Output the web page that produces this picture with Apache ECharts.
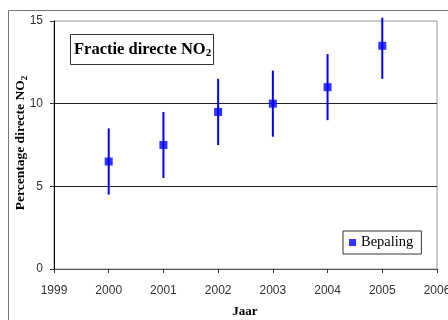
<!DOCTYPE html>
<html><head><meta charset="utf-8">
<script src="https://cdn.jsdelivr.net/npm/echarts@6/dist/echarts.min.js"></script>
<style>html,body{margin:0;padding:0;background:#fff}#c{width:448px;height:320px}</style>
</head><body><div id="c"></div>
<script>
var years = [2000, 2001, 2002, 2003, 2004, 2005];
var values = [6.5, 7.5, 9.5, 10, 11, 13.5];
var lower = [4.5, 5.5, 7.5, 8, 9, 11.5];
var upper = [8.5, 9.5, 11.5, 12, 13, 15.2];
var xTicks = [1999, 2000, 2001, 2002, 2003, 2004, 2005, 2006];
var yTicks = [0, 5, 10, 15];
var xName = 'Jaar';
var yName = 'Percentage directe NO';

var serif = '"Liberation Serif","Times New Roman",serif';
var sans = '"Liberation Sans",Arial,sans-serif';
var chart = echarts.init(document.getElementById('c'));
chart.setOption({
  animation: false,
  backgroundColor: '#fff',
  graphic: [{
    type: 'rect', shape: {x: 8.5, y: 10.5, width: 460, height: 330},
    style: {fill: 'none', stroke: '#777', lineWidth: 1}, z: -10
  }, {
    type: 'text', x: 21, y: 143, rotation: Math.PI / 2,
    style: {
      text: '{b|' + yName + '}{s|2}', align: 'center', verticalAlign: 'middle',
      rich: {
        b: {fontFamily: serif, fontWeight: 'bold', fontSize: 13.5, fill: '#000'},
        s: {fontFamily: serif, fontWeight: 'bold', fontSize: 9, fill: '#000', padding: [7, 0, 0, 0]}
      }
    }
  }, {
    type: 'text', x: 245, y: 312,
    style: {text: xName, align: 'center', verticalAlign: 'middle',
      fontFamily: serif, fontWeight: 'bold', fontSize: 13, fill: '#000'}
  }],
  title: {
    text: '{b|Fractie directe NO}{s|2}',
    left: 70, top: 33,
    padding: [7, 3, 6, 4],
    borderColor: '#333', borderWidth: 1, backgroundColor: '#fff',
    textStyle: {
      rich: {
        b: {fontFamily: serif, fontWeight: 'bold', fontSize: 16.5, color: '#000'},
        s: {fontFamily: serif, fontWeight: 'bold', fontSize: 11, color: '#000', padding: [8, 0, 0, 0]}
      }
    }
  },
  legend: {
    data: ['Bepaling'],
    left: 343, top: 231,
    padding: [4, 8, 4, 6],
    borderColor: '#333', borderWidth: 1, backgroundColor: '#fff',
    icon: 'rect', itemWidth: 7, itemHeight: 7, itemGap: 6,
    textStyle: {fontFamily: serif, fontSize: 14.5, color: '#000'}
  },
  grid: {left: 54, top: 21, right: 11, bottom: 51, show: true, borderColor: '#999', borderWidth: 1,
    containLabel: false, outerBoundsMode: 'none'},
  xAxis: {
    type: 'value', min: xTicks[0], max: xTicks[xTicks.length - 1], interval: 1,
    axisLine: {lineStyle: {color: '#555', width: 1}},
    axisTick: {show: true, length: 4, lineStyle: {color: '#333'}},
    axisLabel: {fontFamily: sans, fontSize: 12, color: '#333', margin: 16, formatter: function (v) { return String(v); }},
    splitLine: {show: false}
  },
  yAxis: {
    type: 'value', min: yTicks[0], max: yTicks[yTicks.length - 1], interval: 5,
    axisLine: {show: true, lineStyle: {color: '#000', width: 1}},
    axisTick: {show: true, length: 4, lineStyle: {color: '#333'}},
    axisLabel: {fontFamily: sans, fontSize: 12, color: '#333', margin: 11},
    splitLine: {show: true, lineStyle: {color: ['transparent', '#222', '#222', 'transparent'], width: 1}}
  },
  series: [{
    name: 'Errors', type: 'custom', clip: false, z: 3,
    data: years.map(function (y, i) { return [y, lower[i], upper[i]]; }),
    renderItem: function (params, api) {
      var a = api.coord([api.value(0), api.value(1)]);
      var b = api.coord([api.value(0), api.value(2)]);
      return {type: 'line', shape: {x1: a[0], y1: a[1], x2: b[0], y2: b[1]},
        style: {stroke: '#0000ff', lineWidth: 2}};
    }
  }, {
    name: 'Bepaling', type: 'scatter', symbol: 'rect', symbolSize: 8, z: 4,
    itemStyle: {color: '#0000ff'},
    data: years.map(function (y, i) { return [y, values[i]]; })
  }]
});
</script></body></html>
